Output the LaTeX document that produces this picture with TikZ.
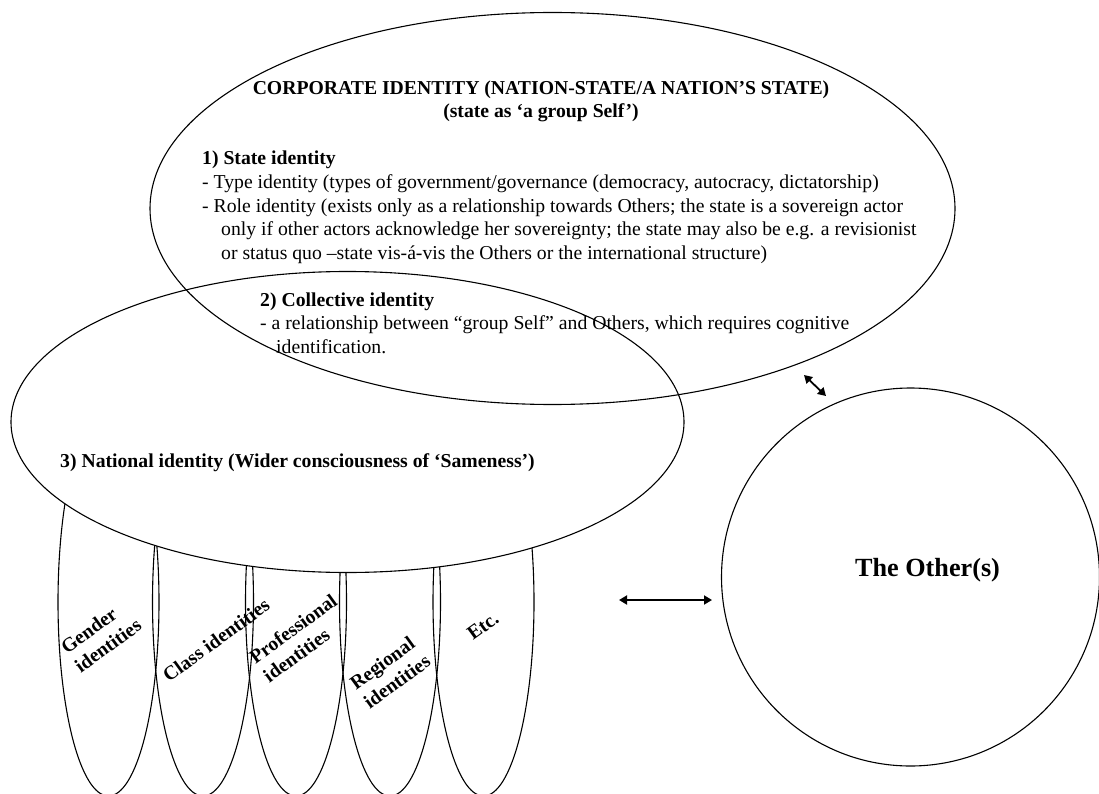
\documentclass[tikz,border=0pt]{standalone}
\usepackage{fontspec}
\setmainfont{Liberation Serif}
\usetikzlibrary{shapes.geometric,arrows.meta}

\begin{document}
\begin{tikzpicture}[x=1pt,y=-1pt,
  outline/.style={draw=black,line width=1.1pt,inner sep=0pt,outer sep=0pt,ellipse},
  fringe/.style={outline,minimum width=101pt,minimum height=388pt},
  body/.style={font=\fontsize{19.7}{23.5}\selectfont,inner sep=0pt,anchor=base west},
  bodyb/.style={body,font=\fontsize{19.7}{23.5}\selectfont\bfseries},
  tag/.style={font=\fontsize{19.7}{23.5}\selectfont\bfseries,align=left,rotate=36,inner sep=0pt},
  link/.style={line width=1.8pt,{Triangle[length=8pt,width=9pt]}-{Triangle[length=8pt,width=9pt]}}
]
\useasboundingbox (0,0) rectangle (1099,794);

% sub-identities hanging below the national identity
\node[fringe] (gender) at (108.5,602) {};
\node[fringe] (class)  at (203,602) {};
\node[fringe] (prof)   at (296,602) {};
\node[fringe] (region) at (390,602) {};
\node[fringe] (etc)    at (483.5,602) {};

% national identity (white, covers the tops of the sub-identities)
\node[outline,fill=white,minimum width=673pt,minimum height=301pt] (national) at (347.5,422) {};

% corporate identity
\node[outline,minimum width=805pt,minimum height=392pt] (corporate) at (552.5,208.5) {};

% the Other(s)
\node[draw=black,line width=1.1pt,circle,inner sep=0pt,minimum size=378pt] (other) at (910.5,577) {};

% texts of the corporate identity
\node[bodyb,anchor=base] (title) at (541,94.5) {CORPORATE IDENTITY (NATION-STATE/A NATION’S STATE)};
\node[bodyb,anchor=base] (subtitle) at (541,118) {(state as ‘a group Self’)};
\node[bodyb] (s1) at (202,165) {1) State identity};
\node[body] (s1a) at (202,189) {- Type identity (types of government/governance (democracy, autocracy, dictatorship)};
\node[body] (s1b) at (202,212.5) {- Role identity (exists only as a relationship towards Others; the state is a sovereign actor};
\node[body] (s1c) at (221,236) {only if other actors acknowledge her sovereignty; the state may also be e.g. a revisionist};
\node[body] (s1d) at (221,259.5) {or status quo –state vis-á-vis the Others or the international structure)};
\node[bodyb] (s2) at (260,306) {2) Collective identity};
\node[body] (s2a) at (260,329.5) {- a relationship between “group Self” and Others, which requires cognitive};
\node[body] (s2b) at (276,353) {identification.};
\node[bodyb] (s3) at (60,467) {3) National identity (Wider consciousness of ‘Sameness’)};

% labels of the sub-identities
\node[tag] (tgender) at (101,636) {Gender\\identities};
\node[tag] (tclass)  at (216,640) {Class identities};
\node[tag] (tprof)   at (300,638) {Professional\\identities};
\node[tag] (tregion) at (390,672) {Regional\\identities};
\node[tag] (tetc)    at (483,626) {Etc.};

\node[font=\fontsize{26.2}{30}\selectfont\bfseries,inner sep=0pt,anchor=base] (tother) at (927.5,576) {The Other(s)};

% relations with the Other(s)
\coordinate (h1) at (619,600);
\coordinate (h2) at (712,600);
\draw[link] (h1) -- (h2);
\coordinate (d1) at (804,375);
\coordinate (d2) at (826,396);
\draw[link] (d1) -- (d2);
\end{tikzpicture}
\end{document}
